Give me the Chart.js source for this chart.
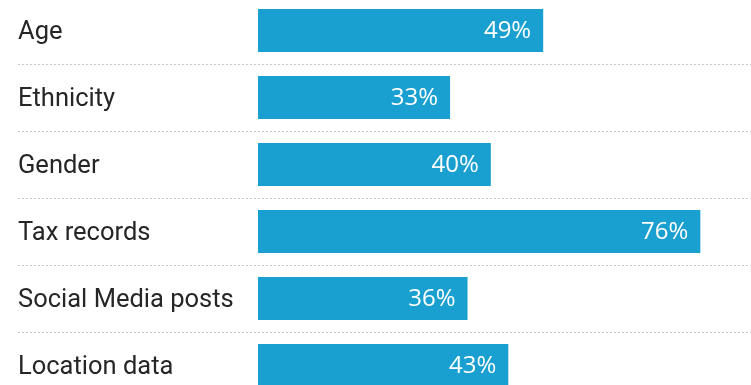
<!DOCTYPE html>
<html>
<head>
<meta charset="utf-8">
<script src="https://cdn.jsdelivr.net/npm/chart.js@4/dist/chart.umd.min.js"></script>
<style>
  html, body { margin: 0; padding: 0; background: #fff; overflow: hidden; }
  #wrap { position: absolute; left: 0; top: -3px; width: 751px; height: 402px; }
</style>
</head>
<body>
<div id="wrap"><canvas id="barChart"></canvas></div>
<script>
const categories = ['Age', 'Ethnicity', 'Gender', 'Tax records', 'Social Media posts', 'Location data'];
const values = [49, 33, 40, 76, 36, 43];

// white percentage labels inside the bar ends
const valueLabels = {
  id: 'valueLabels',
  afterDatasetsDraw(chart) {
    const ctx = chart.ctx;
    const meta = chart.getDatasetMeta(0);
    ctx.save();
    ctx.fillStyle = '#ffffff';
    ctx.font = '24px "Open Sans"';
    ctx.textAlign = 'right';
    ctx.textBaseline = 'middle';
    meta.data.forEach((bar, i) => {
      ctx.fillText(values[i] + '%', bar.x - 12, bar.y + 1);
    });
    ctx.restore();
  }
};

const ctx = document.getElementById('barChart').getContext('2d');
const barChart = new Chart(ctx, {
  type: 'bar',
  data: {
    labels: categories,
    datasets: [{
      data: values,
      backgroundColor: '#19a0d0',
      borderWidth: 0,
      categoryPercentage: 1,
      barPercentage: 0.642
    }]
  },
  options: {
    indexAxis: 'y',
    responsive: true,
    maintainAspectRatio: false,
    animation: false,
    layout: { padding: { left: 18, right: 0, top: 0, bottom: 0 } },
    plugins: {
      legend: { display: false },
      tooltip: { enabled: false }
    },
    scales: {
      x: {
        display: false,
        min: 0,
        max: 84.7
      },
      y: {
        afterFit(scale) {
          scale.width = 240;
          scale.paddingTop = 0;
          scale.paddingBottom = 0;
        },
        border: { display: false, dash: [2, 2] },
        grid: {
          offset: true,
          color: '#cccccc',
          lineWidth: 1,
          tickLength: 240,
          tickColor: '#cccccc',
          tickWidth: 1,
          tickBorderDash: [2, 2]
        },
        ticks: {
          crossAlign: 'far',
          padding: 0,
          labelOffset: 2,
          color: '#262626',
          font: { family: 'Roboto', size: 25.5 }
        }
      }
    }
  },
  plugins: [valueLabels]
});
</script>
</body>
</html>
